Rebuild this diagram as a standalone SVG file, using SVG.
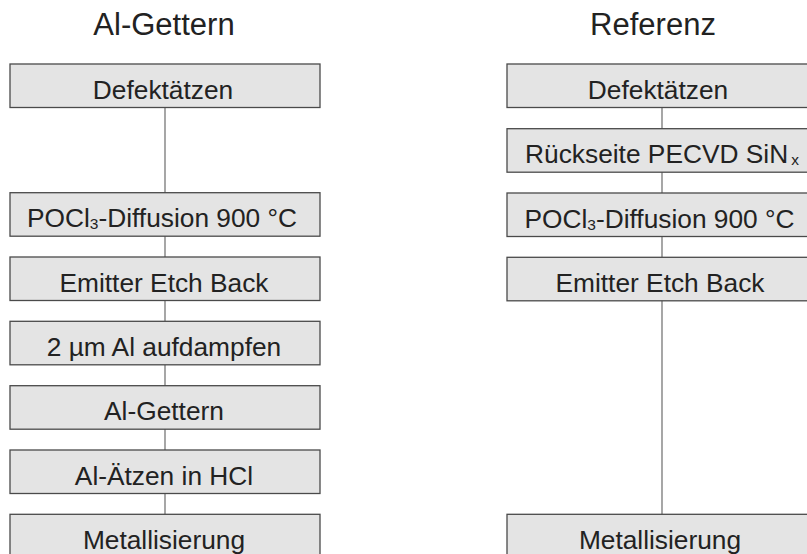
<svg xmlns="http://www.w3.org/2000/svg" width="807" height="554" viewBox="0 0 807 554">
<style>
.box{fill:#e4e4e4;stroke:#4a4a4a;stroke-width:1.3}
.t{font-family:"Liberation Sans",Arial,sans-serif;font-size:26.3px;fill:#222;text-anchor:middle}
.h{font-family:"Liberation Sans",Arial,sans-serif;font-size:31px;fill:#222;text-anchor:middle}
.sub{font-size:15.5px}
.c{stroke:#777;stroke-width:1.3;fill:none}
</style>
<rect width="807" height="554" fill="#fff"/>
<text class="h" x="164" y="35">Al-Gettern</text>
<text class="h" x="653" y="35">Referenz</text>
<g id="connectors">
<line class="c" x1="165" y1="108" x2="165" y2="193"/>
<line class="c" x1="165" y1="236" x2="165" y2="257"/>
<line class="c" x1="165" y1="300" x2="165" y2="321"/>
<line class="c" x1="165" y1="365" x2="165" y2="386"/>
<line class="c" x1="165" y1="429" x2="165" y2="450"/>
<line class="c" x1="165" y1="493" x2="165" y2="514"/>
<line class="c" x1="662" y1="108" x2="662" y2="129"/>
<line class="c" x1="662" y1="172" x2="662" y2="193"/>
<line class="c" x1="662" y1="236" x2="662" y2="257"/>
<line class="c" x1="662" y1="300" x2="662" y2="514"/>
</g>
<g id="l1"><rect class="box" x="10" y="64" width="310" height="43.5"/><text class="t" x="163" y="98.5">Defektätzen</text></g>
<g id="l2"><rect class="box" x="10" y="192.7" width="310" height="43.5"/><text class="t" x="162" y="227">POCl<tspan class="sub" dy="2">3</tspan><tspan dy="-2">-Diffusion 900 °C</tspan></text></g>
<g id="l3"><rect class="box" x="10" y="257" width="310" height="43.5"/><text class="t" x="164" y="291.5">Emitter Etch Back</text></g>
<g id="l4"><rect class="box" x="10" y="321.3" width="310" height="43.5"/><text class="t" x="164" y="356">2 µm Al aufdampfen</text></g>
<g id="l5"><rect class="box" x="10" y="385.7" width="310" height="43.5"/><text class="t" x="164" y="420">Al-Gettern</text></g>
<g id="l6"><rect class="box" x="10" y="450" width="310" height="43.5"/><text class="t" x="164" y="484.5">Al-Ätzen in HCl</text></g>
<g id="l7"><rect class="box" x="10" y="514.3" width="310" height="43.5"/><text class="t" x="164" y="549">Metallisierung</text></g>
<g id="r1"><rect class="box" x="507" y="64" width="310" height="43.5"/><text class="t" x="658" y="98.5">Defektätzen</text></g>
<g id="r2"><rect class="box" x="507" y="128.7" width="310" height="43.5"/><text class="t" x="662" y="163">Rückseite PECVD SiN<tspan class="sub" dx="3" dy="2">x</tspan></text></g>
<g id="r3"><rect class="box" x="507" y="193" width="310" height="43.5"/><text class="t" x="659.5" y="227.5">POCl<tspan class="sub" dy="2">3</tspan><tspan dy="-2">-Diffusion 900 °C</tspan></text></g>
<g id="r4"><rect class="box" x="507" y="257.3" width="310" height="43.5"/><text class="t" x="660" y="292">Emitter Etch Back</text></g>
<g id="r5"><rect class="box" x="507" y="514.3" width="310" height="43.5"/><text class="t" x="660" y="549">Metallisierung</text></g>
</svg>
